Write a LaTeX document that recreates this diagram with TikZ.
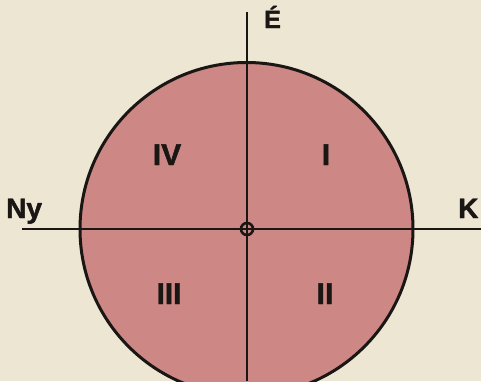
\documentclass[tikz,border=0pt]{standalone}
\usepackage{fontspec}
\setmainfont{Liberation Sans}
\newfontfamily\heavyfont{Liberation Sans Bold}[FakeBold=1.6]
\usetikzlibrary{positioning}
\definecolor{paper}{HTML}{ECE6D3}
\definecolor{rose}{HTML}{CD8785}
\definecolor{ink}{HTML}{1A1614}
\tikzset{
  axis/.style={draw=ink, line width=2.8pt},
  disk/.style={circle, draw=ink, fill=rose, line width=3pt, minimum size=333pt, inner sep=0pt},
  origin/.style={circle, draw=ink, line width=2.6pt, minimum size=12pt, inner sep=0pt},
  quadrant/.style={text=ink, font=\fontsize{30}{30}\selectfont\heavyfont, inner sep=0pt, anchor=base},
  compass/.style={text=ink, font=\fontsize{28}{28}\selectfont\heavyfont, inner sep=0pt, anchor=base west},
}

\begin{document}
\begin{tikzpicture}[x=1pt,y=-1pt]

  \fill[paper] (0,0) rectangle (481,381);
  \useasboundingbox (0,0) rectangle (481,381);

  \node[disk] (disk) at (246.5,229) {};

  % --- axes ----------------------------------------------------------------
  \coordinate (west)  at (22,229);
  \coordinate (east)  at (481,229);
  \coordinate (north) at (247,12);
  \coordinate (south) at (247,381);
  \draw[axis] (west) -- (east);
  \draw[axis] (north) -- (south);
  \node[origin] (origin) at (247,229) {};

  % --- compass points ------------------------------------------------------
  \node[compass, font=\fontsize{25}{25}\selectfont\heavyfont] (north label) at (264,28) {É};
  \node[compass] (west label) at (6,218) {Ny};
  \node[compass] (east label) at (458,218) {K};

  % --- quadrants -----------------------------------------------------------
  \node[quadrant] (q1) at (326,165) {I};
  \node[quadrant] (q2) at (325,304) {II};
  \node[quadrant] (q3) at (169,304) {III};
  \node[quadrant] (q4) at (167,165) {IV};

\end{tikzpicture}
\end{document}
